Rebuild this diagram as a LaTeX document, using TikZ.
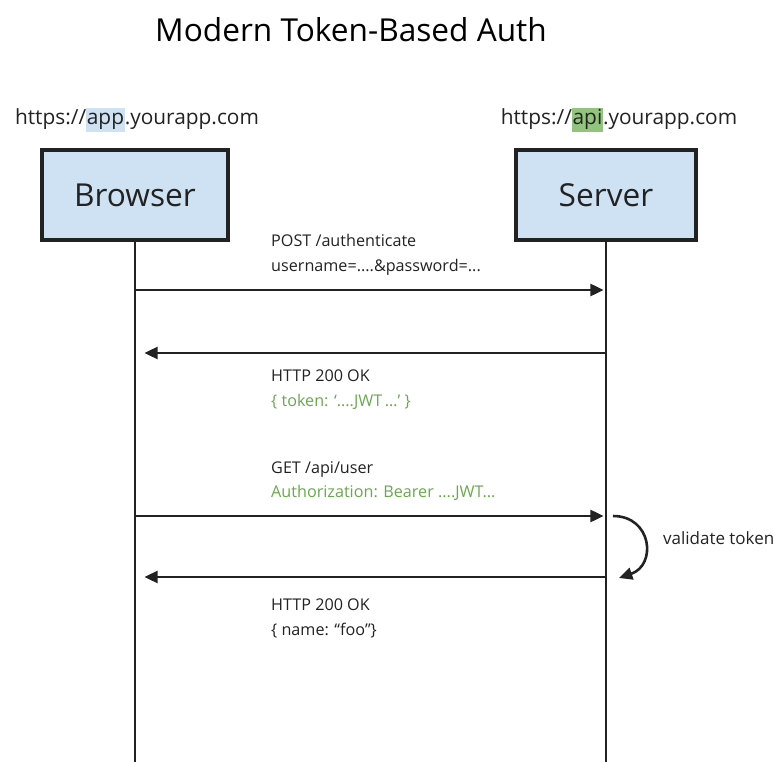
\documentclass[tikz,border=0pt]{standalone}
\usepackage{fontspec}
\setmainfont{Open Sans}
\usetikzlibrary{arrows.meta}

\definecolor{boxblue}{HTML}{CFE2F3}
\definecolor{txtgreen}{HTML}{6AA84F}
\definecolor{hlgreen}{HTML}{93C47D}
\definecolor{ink}{HTML}{222222}

\newcommand{\hlword}[2]{{\setlength{\fboxsep}{0.6pt}\colorbox{#1}{\strut #2}}}

\tikzset{
  party/.style={draw=ink, line width=2.6pt, fill=boxblue, minimum height=2.7cm,
    font=\fontsize{27}{30}\selectfont, text=ink},
  lifeline/.style={ink, line width=1.8pt},
  msg/.style={ink, line width=2.4pt, shorten >=2pt, -{Triangle[length=4mm,width=3.6mm]}},
  msgtext/.style={anchor=north west, align=left, inner sep=0pt, text=ink,
    font=\fontsize{13.8}{21}\selectfont},
}

\begin{document}
\begin{tikzpicture}[x=0.03cm, y=-0.03cm]
  \useasboundingbox (0,0) rectangle (774,762);

  \node (title) at (351,30) {\fontsize{27}{30}\selectfont Modern Token-Based Auth};

  \node[text=ink, font=\fontsize{17.8}{20}\selectfont] (appurl) at (137,120)
    {https://\hlword{boxblue}{app}.yourapp.com};
  \node[text=ink, font=\fontsize{17.8}{20}\selectfont] (apiurl) at (619,120)
    {https://\hlword{hlgreen}{api}.yourapp.com};

  \node[party, minimum width=5.58cm] (browser) at (135,195) {Browser};
  \node[party, minimum width=5.4cm] (server) at (606,195) {Server};

  \coordinate (bend) at (browser.south |- 0,762);
  \coordinate (send) at (server.south |- 0,762);
  \draw[lifeline] (browser.south) -- (bend);
  \draw[lifeline] (server.south) -- (send);

  % login
  \coordinate (b1) at (browser.south |- 0,290);
  \coordinate (s1) at (server.south |- 0,290);
  \draw[msg] (b1) -- (s1);
  \node[msgtext] (m1) at (271,234) {POST /authenticate\\username=....\&password=...};

  \coordinate (s2) at (server.south |- 0,353);
  \coordinate (b2) at (browser.south |- 0,353);
  \draw[msg, shorten >=8pt] (s2) -- (b2);
  \node[msgtext] (m2) at (271,370) {HTTP 200 OK\\\textcolor{txtgreen}{\{ token: `....JWT\,\ldots' \}}};

  % api call
  \coordinate (b3) at (browser.south |- 0,516);
  \coordinate (s3) at (server.south |- 0,516);
  \draw[msg] (b3) -- (s3);
  \node[msgtext] (m3) at (271,461) {GET /api/user\\\textcolor{txtgreen}{Authorization: Bearer ....JWT...}};

  \coordinate (v1) at (613,516);
  \coordinate (v2) at (619,578);
  \draw[msg, line width=2.2pt, shorten >=0pt] (v1) .. controls (652,516) and (657,565) .. (v2);
  \node[anchor=west, text=ink, font=\fontsize{14.5}{17}\selectfont] (valid) at (659,538) {validate token};

  \coordinate (s4) at (server.south |- 0,577);
  \coordinate (b4) at (browser.south |- 0,577);
  \draw[msg, shorten >=8pt] (s4) -- (b4);
  \node[msgtext] (m4) at (271,599) {HTTP 200 OK\\\{ name: “foo”\}};
\end{tikzpicture}
\end{document}
